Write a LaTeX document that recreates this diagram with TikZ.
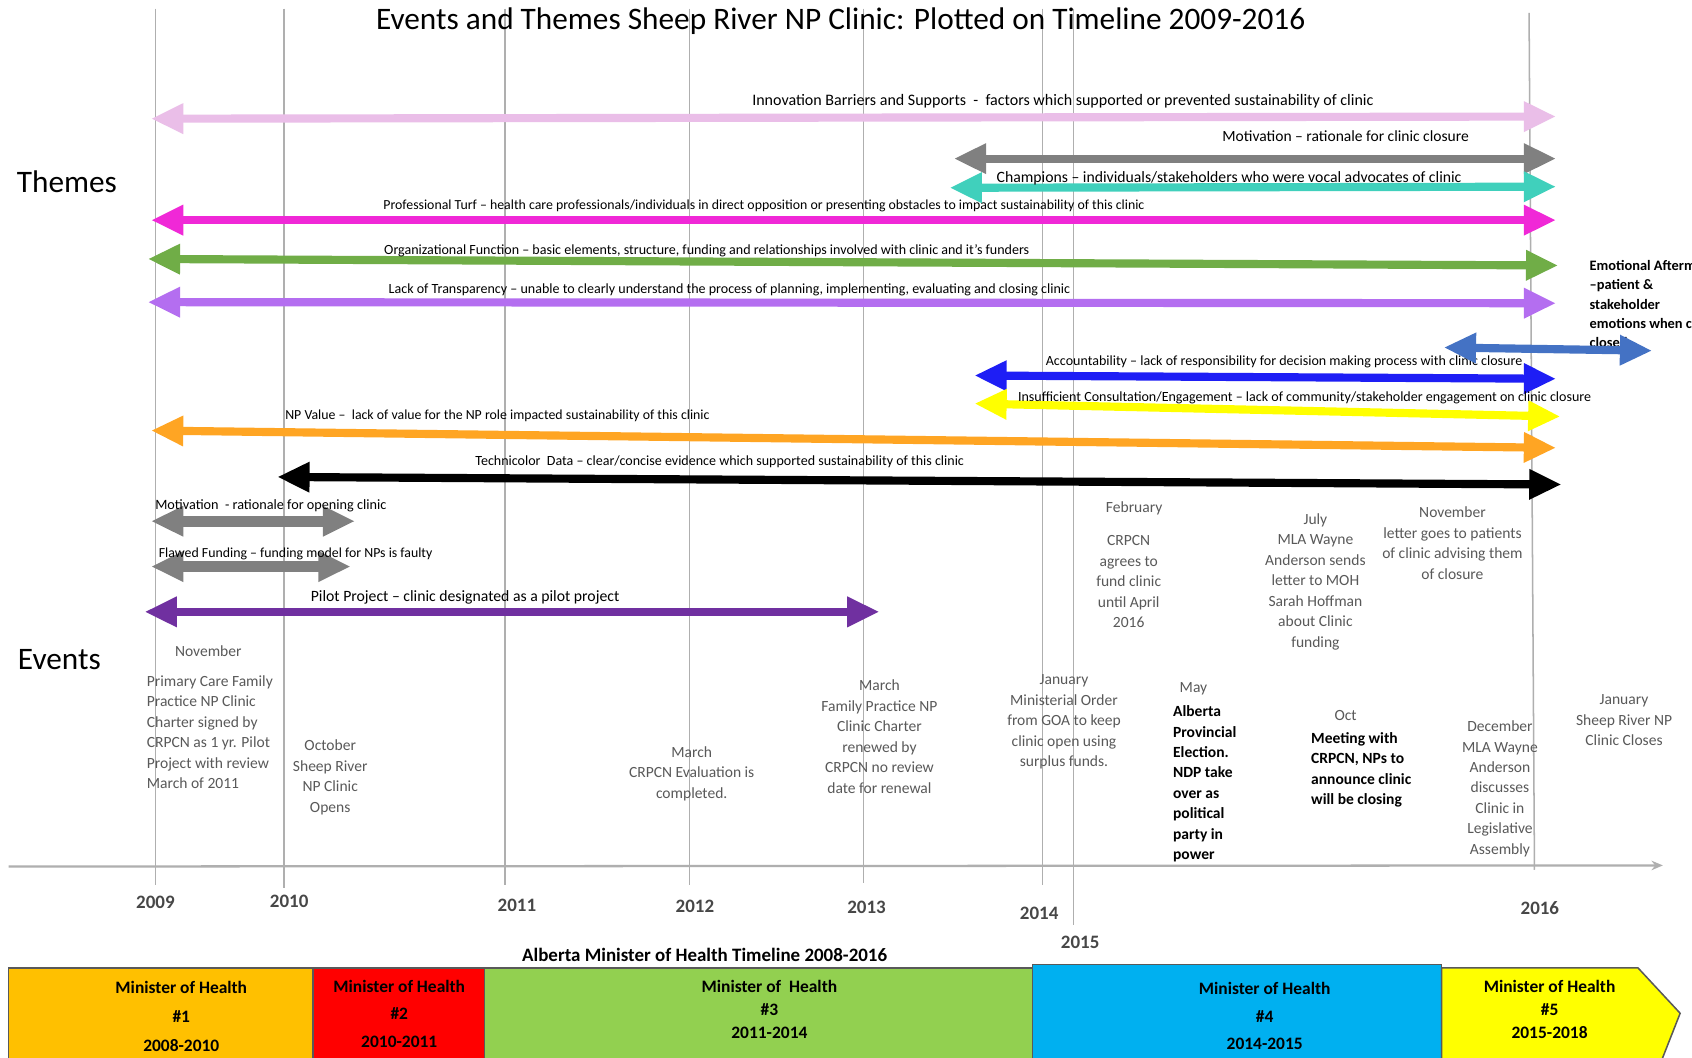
\documentclass[tikz,border=0pt]{standalone}
\usepackage{fontspec}
\setmainfont{Carlito}
\usetikzlibrary{arrows.meta,positioning}
\definecolor{thpink}{RGB}{234,190,232}
\definecolor{thgray}{RGB}{128,128,128}
\definecolor{thteal}{RGB}{64,208,188}
\definecolor{thmagenta}{RGB}{240,40,215}
\definecolor{thgreen}{RGB}{112,173,71}
\definecolor{thlilac}{RGB}{180,110,240}
\definecolor{thsteel}{RGB}{68,114,196}
\definecolor{thblue}{RGB}{30,30,245}
\definecolor{thyellow}{RGB}{255,255,0}
\definecolor{thorange}{RGB}{255,165,35}
\definecolor{thpurple}{RGB}{112,48,160}
\definecolor{gridgray}{RGB}{175,175,175}
\definecolor{evgray}{RGB}{89,89,89}
\definecolor{mhorange}{RGB}{255,192,0}
\definecolor{mhred}{RGB}{255,0,0}
\definecolor{mhgreen}{RGB}{146,208,80}
\definecolor{mhblue}{RGB}{0,176,240}
\definecolor{mhyellow}{RGB}{255,255,0}

\begin{document}
\begin{tikzpicture}[x=0.02cm,y=-0.02cm,
  >={Triangle[width=15pt,length=17pt]},
  span/.style={<->,line width=4.3pt},
  thlabel/.style={font=\fontsize{#1}{10}\selectfont,inner sep=1pt},
  thlabel/.default=8,
  evtext/.style={font=\fontsize{8.2}{10.8}\selectfont,text=evgray,align=center,inner sep=1pt},
  evbold/.style={font=\fontsize{8.2}{10.8}\selectfont\bfseries,align=left,anchor=west,inner sep=1pt},
  yearlbl/.style={font=\fontsize{10}{12}\selectfont\bfseries,text=black!72},
  gridline/.style={draw=gridgray,line width=0.8pt},
  mhbox/.style={draw=black!65,line width=0.8pt},
  mhtext/.style={font=\fontsize{9.2}{#1}\selectfont\bfseries,align=center}
]
  \useasboundingbox (0,0) rectangle (1568,980);
  \fill[white] (0,0) rectangle (1568,980);

  % Year grid
  \foreach \gx/\gtop/\gbot in {144/8/820,263/8/823,468/8/820,639/8/820,800/8/818,966/8/820,995/8/857}
    \draw[gridline] (\gx,\gtop) -- (\gx,\gbot);
  \draw[gridline] (1417,12) -- (1422,806);
  \draw[gridline,line width=1.2pt,-{Stealth[length=6pt,width=5pt]}] (8,803) -- (1541,802);

  % Headings
  \node[font=\fontsize{16.5}{20}\selectfont] (title) at (779,20) {Events and Themes Sheep River NP Clinic: Plotted on Timeline 2009-2016};
  \node[font=\fontsize{16.5}{20}\selectfont] (themes) at (62,168) {Themes};
  \node[font=\fontsize{16.5}{20}\selectfont] (events) at (55,611) {Events};

  % Theme arrows
  \draw[span,thpink] (140,110) -- (1442,108);
  \draw[span,thgray] (884,147) -- (1442,147);
  \draw[span,thteal] (880,174) -- (1442,173);
  \draw[span,thmagenta] (140,204) -- (1442,204);
  \draw[span,thgreen] (137,240) -- (1444,246);
  \draw[span,thlilac] (137,280) -- (1442,281);
  \draw[span,thblue] (903,348) -- (1442,351);
  \draw[span,thyellow] (903,374) -- (1446,386);
  \draw[span,thorange] (140,399) -- (1442,415);
  \draw[span,black] (257,442) -- (1447,449);
  \draw[span,thgray,line width=6pt] (140,483) -- (329,483);
  \draw[span,thgray,line width=6pt] (140,525) -- (325,525);
  \draw[span,thpurple] (134,567) -- (815,567);

  % Theme labels
  \node[thlabel=8.45] (innov) at (985,94) {Innovation Barriers and Supports \ - \ factors which supported or prevented sustainability of clinic};
  \node[thlabel=8.2] (motclose) at (1247,126) {Motivation -- rationale for clinic closure};
  \node[thlabel=8.3] (champ) at (1139,165) {Champions -- individuals/stakeholders who were vocal advocates of clinic};
  \node[thlabel=7.3] (turf) at (708,191) {Professional Turf -- health care professionals/individuals in direct opposition or presenting obstacles to impact sustainability of this clinic};
  \node[thlabel=7.4] (orgfn) at (655,232) {Organizational Function -- basic elements, structure, funding and relationships involved with clinic and it's funders};
  \node[thlabel=7.4] (transp) at (676,269) {Lack of Transparency -- unable to clearly understand the process of planning, implementing, evaluating and closing clinic};
  \node[thlabel=7.4] (account) at (1190,335) {Accountability -- lack of responsibility for decision making process with clinic closure};
  \node[thlabel=7.4] (consult) at (1209,369) {Insufficient Consultation/Engagement -- lack of community/stakeholder engagement on clinic closure};
  \node[thlabel=7.3] (npvalue) at (461,385) {NP Value --\ \ lack of value for the NP role impacted sustainability of this clinic};
  \node[thlabel=7.4] (techni) at (667,428) {Technicolor\ \ Data -- clear/concise evidence which supported sustainability of this clinic};
  \node[thlabel=7.5] (motopen) at (251,469) {Motivation\ \ - rationale for opening clinic};
  \node[thlabel=7.3] (flawed) at (274,513) {Flawed Funding -- funding model for NPs is faulty};
  \node[thlabel=8.3] (pilot) at (431,554) {Pilot Project -- clinic designated as a pilot project};

  % Emotional aftermath (runs off the right edge)
  \node[thlabel,font=\fontsize{7.6}{10.2}\selectfont\bfseries,align=left,anchor=west] (emotion) at (1471,282)
    {Emotional Aftermath\\--patient \&\\stakeholder\\emotions when clinic\\closed};
  \draw[span,thsteel] (1338,322) -- (1531,325);

  % Events
  \node[evtext] (nov09) at (193,603) {November};
  \node[evtext,align=left,anchor=west] (charter) at (134,678.5) {Primary Care Family\\Practice NP Clinic\\Charter signed by\\CRPCN as 1 yr. Pilot\\Project with review\\March of 2011};
  \node[evtext] (oct09) at (306,720.5) {October\\Sheep River\\NP Clinic\\Opens};
  \node[evtext] (mar11) at (641,717) {March\\CRPCN Evaluation is\\completed.};
  \node[evtext] (mar12) at (815,682.5) {March\\Family Practice NP\\Clinic Charter\\renewed by\\CRPCN no review\\date for renewal};
  \node[evtext] (jan14) at (986,669) {January\\Ministerial Order\\from GOA to keep\\clinic open using\\surplus funds.};
  \node[evtext] (feb15) at (1051,471) {February};
  \node[evtext] (agree) at (1046,539) {CRPCN\\agrees to\\fund clinic\\until April\\2016};
  \node[evtext] (may15) at (1106,638) {May};
  \node[evbold] (elect) at (1085,726.5) {Alberta\\Provincial\\Election.\\NDP take\\over as\\political\\party in\\power};
  \node[evtext] (jul15) at (1219,539) {July\\MLA Wayne\\Anderson sends\\letter to MOH\\Sarah Hoffman\\about Clinic\\funding};
  \node[evtext] (nov15) at (1346,503.5) {November\\letter goes to patients\\of clinic advising them\\of closure};
  \node[evtext] (oct15) at (1247,663) {Oct};
  \node[evbold] (meet) at (1213,713.5) {Meeting with\\CRPCN, NPs to\\announce clinic\\will be closing};
  \node[evtext] (dec15) at (1390,731) {December\\MLA Wayne\\Anderson\\discusses\\Clinic in\\Legislative\\Assembly};
  \node[evtext] (jan16) at (1505,667.5) {January\\Sheep River NP\\Clinic Closes};

  % Years
  \node[yearlbl] (y2009) at (144,836) {2009};
  \node[yearlbl] (y2010) at (268,835) {2010};
  \node[yearlbl] (y2011) at (479,839) {2011};
  \node[yearlbl] (y2012) at (644,840) {2012};
  \node[yearlbl] (y2013) at (803,841) {2013};
  \node[yearlbl] (y2014) at (963,846) {2014};
  \node[yearlbl] (y2015) at (1001,873) {2015};
  \node[yearlbl] (y2016) at (1427,842) {2016};

  % Minister of Health bar
  \node[font=\fontsize{10}{12}\selectfont\bfseries] (mhtitle) at (653,885) {Alberta Minister of Health Timeline 2008-2016};
  \path[mhbox,fill=mhorange] (8,897) rectangle (290,1000);
  \path[mhbox,fill=mhred] (290,897) rectangle (449,1000);
  \path[mhbox,fill=mhgreen] (449,897) rectangle (957,1000);
  \path[mhbox,fill=mhblue] (957,894) rectangle (1336,1000);
  \path[mhbox,fill=mhyellow] (1336,897) -- (1518,897) -- (1557,939) -- (1533,1000) -- (1336,1000) -- cycle;
  \node[mhtext=15.3pt] (mh1) at (168,941.5) {Minister of Health\\\#1\\2008-2010};
  \node[mhtext=14.5pt] (mh2) at (370,939.5) {Minister of Health\\\#2\\2010-2011};
  \node[mhtext=12.2pt] (mh3) at (713,935.5) {Minister of\ \ Health\\\#3\\2011-2014};
  \node[mhtext=14.5pt] (mh4) at (1172,941.5) {Minister of Health\\\#4\\2014-2015};
  \node[mhtext=12.2pt] (mh5) at (1436,935.5) {Minister of Health\\\#5\\2015-2018};
\end{tikzpicture}
\end{document}
